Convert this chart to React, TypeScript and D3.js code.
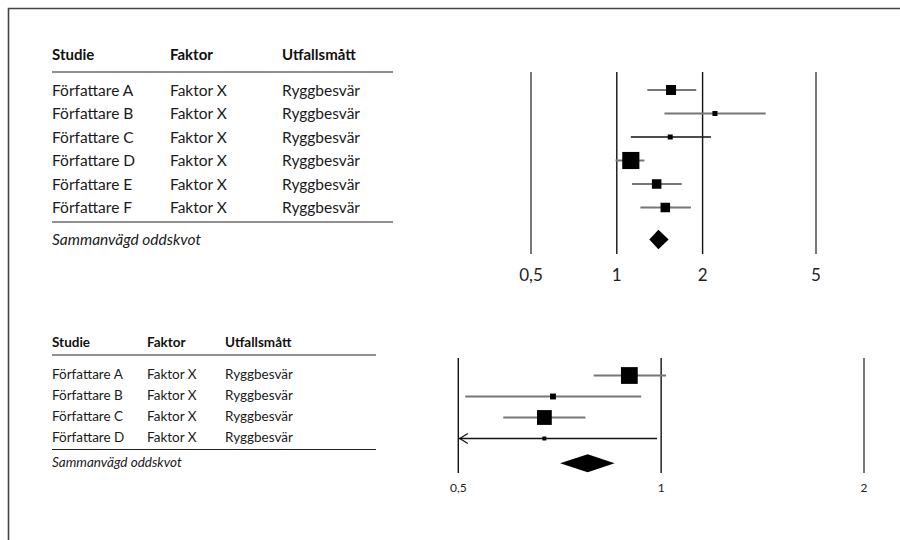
import React, { useRef, useEffect } from 'react'
import * as d3 from 'd3'

// övre diagrammet
const studierA = ['Författare A', 'Författare B', 'Författare C', 'Författare D', 'Författare E', 'Författare F']
const faktorA = ['Faktor X', 'Faktor X', 'Faktor X', 'Faktor X', 'Faktor X', 'Faktor X']
const utfallA = ['Ryggbesvär', 'Ryggbesvär', 'Ryggbesvär', 'Ryggbesvär', 'Ryggbesvär', 'Ryggbesvär']
const orA = [1.55, 2.21, 1.54, 1.12, 1.38, 1.48]
const lowA = [1.28, 1.47, 1.12, 0.99, 1.13, 1.21]
const highA = [1.9, 3.33, 2.14, 1.25, 1.69, 1.82]
const vikterA = [16, 4, 4, 47, 14.5, 14.5]
const pooledA = [1.3, 1.4, 1.52]
const ticksA = [0.5, 1, 2, 5]
const tickLabelsA = ['0,5', '1', '2', '5']

// nedre diagrammet
const studierB = ['Författare A', 'Författare B', 'Författare C', 'Författare D']
const faktorB = ['Faktor X', 'Faktor X', 'Faktor X', 'Faktor X']
const utfallB = ['Ryggbesvär', 'Ryggbesvär', 'Ryggbesvär', 'Ryggbesvär']
const orB = [0.897, 0.691, 0.671, 0.671]
const lowB = [0.794, 0.512, 0.583, 0.42]
const highB = [1.017, 0.934, 0.772, 0.986]
const vikterB = [45, 5.5, 35, 2.5]
const pooledB = [0.708, 0.778, 0.853]
const ticksB = [0.5, 1, 2]
const tickLabelsB = ['0,5', '1', '2']

const headers = ['Studie', 'Faktor', 'Utfallsmått']
const FONT = 'Lato, "Open Sans", sans-serif'
const GRAY = '#777'
const DARK = '#111'

function drawForest(g, o) {
    const x = d3.scaleLog().domain(o.domain).range(o.xRange)
    const y = d3.scalePoint().domain(o.studier).range(o.yRange)
    // tabellraderna ligger inte exakt i linje med diagrammets rader
    const yt = d3.scalePoint().domain(o.studier).range(o.tableRange)
    const size = d3.scaleSqrt().domain([0, 100]).range([0, o.sizeK])

    // tabell
    g.selectAll('text.head').data(headers).join('text')
        .attr('class', 'head')
        .attr('x', (d, i) => o.cols[i]).attr('y', o.headY)
        .attr('font-family', FONT).attr('font-weight', 700)
        .attr('font-size', o.headSize).attr('fill', DARK)
        .text(d => d)

    g.append('line').attr('x1', o.cols[0]).attr('x2', o.ruleEnd)
        .attr('y1', o.rule1).attr('y2', o.rule1)
        .attr('stroke', '#222').attr('stroke-width', 1.2)
    g.append('line').attr('x1', o.cols[0]).attr('x2', o.ruleEnd)
        .attr('y1', o.rule2).attr('y2', o.rule2)
        .attr('stroke', '#222').attr('stroke-width', 1.2)

    const cols = [o.studier, o.faktor, o.utfall]
    cols.forEach((col, ci) => {
        g.append('g').selectAll('text').data(col).join('text')
            .attr('x', o.cols[ci])
            .attr('y', (d, i) => yt(o.studier[i]))
            .attr('font-family', FONT).attr('font-size', o.textSize).attr('fill', '#1a1a1a')
            .text(d => d)
    })

    g.append('text').attr('x', o.cols[0]).attr('y', o.sumY)
        .attr('font-family', FONT).attr('font-style', 'italic')
        .attr('font-size', o.textSize).attr('fill', '#1a1a1a')
        .text('Sammanvägd oddskvot')

    // referenslinjer
    g.append('g').selectAll('line').data(o.ticks).join('line')
        .attr('x1', d => x(d)).attr('x2', d => x(d))
        .attr('y1', o.lineTop).attr('y2', o.lineBottom)
        .attr('stroke', d => o.grayTicks.includes(d) ? GRAY : DARK)
        .attr('stroke-width', d => o.grayTicks.includes(d) ? 2 : 1.4)

    g.append('g').selectAll('text').data(o.ticks).join('text')
        .attr('x', d => x(d)).attr('y', o.tickY)
        .attr('text-anchor', 'middle')
        .attr('font-family', FONT).attr('font-size', o.tickSize).attr('fill', '#222')
        .text((d, i) => o.tickLabels[i])

    // konfidensintervall
    const rows = o.studier.map((s, i) => ({ s, or: o.or[i], lo: o.low[i], hi: o.high[i], w: o.vikter[i], black: o.blackCI.includes(i) }))
    const lo = o.domain[0]
    g.append('g').selectAll('line').data(rows).join('line')
        .attr('x1', d => x(Math.max(d.lo, lo))).attr('x2', d => x(d.hi))
        .attr('y1', d => y(d.s)).attr('y2', d => y(d.s))
        .attr('stroke', d => d.black ? DARK : GRAY)
        .attr('stroke-width', d => d.black ? 1.4 : 2)

    // pil för intervall utanför skalan
    g.append('g').selectAll('path').data(rows.filter(d => d.lo < lo)).join('path')
        .attr('d', d => {
            const x0 = x(lo) + 1.5, yy = y(d.s)
            return `M${x0 + 8},${yy - 5}L${x0},${yy}L${x0 + 8},${yy + 5}`
        })
        .attr('fill', 'none').attr('stroke', DARK).attr('stroke-width', 1.2)

    g.append('g').selectAll('rect').data(rows).join('rect')
        .attr('x', d => x(d.or) - size(d.w) / 2)
        .attr('y', d => y(d.s) - size(d.w) / 2)
        .attr('width', d => size(d.w)).attr('height', d => size(d.w))
        .attr('fill', '#000')

    const [pl, pm, ph] = o.pooled
    g.append('path')
        .attr('d', `M${x(pl)},${o.diamondY}L${x(pm)},${o.diamondY - o.diamondH}L${x(ph)},${o.diamondY}L${x(pm)},${o.diamondY + o.diamondH}Z`)
        .attr('fill', '#000')
}

function App() {
    const svgRef = useRef(null)

    useEffect(() => {
        const svg = d3.select(svgRef.current)
        svg.selectAll('*').remove()

        svg.append('path')
            .attr('d', 'M8.5,540V8.5H900')
            .attr('fill', 'none').attr('stroke', '#444').attr('stroke-width', 1.6)

        drawForest(svg.append('g'), {
            studier: studierA, faktor: faktorA, utfall: utfallA,
            or: orA, low: lowA, high: highA, vikter: vikterA, pooled: pooledA,
            ticks: ticksA, tickLabels: tickLabelsA, grayTicks: [0.5, 5], blackCI: [2],
            domain: [0.5, 5], xRange: [531, 816], yRange: [90, 207.5], tableRange: [96, 213],
            cols: [52, 170, 282], ruleEnd: 393, headY: 60, headSize: 15,
            rule1: 72, rule2: 222, sumY: 245, textSize: 15.5,
            lineTop: 72, lineBottom: 254, tickY: 281, tickSize: 17,
            sizeK: 25, diamondY: 239.5, diamondH: 9.7,
        })

        drawForest(svg.append('g'), {
            studier: studierB, faktor: faktorB, utfall: utfallB,
            or: orB, low: lowB, high: highB, vikter: vikterB, pooled: pooledB,
            ticks: ticksB, tickLabels: tickLabelsB, grayTicks: [2], blackCI: [3],
            domain: [0.5, 2], xRange: [458.3, 864], yRange: [375.5, 438.5], tableRange: [379, 442],
            cols: [52, 147, 225], ruleEnd: 376, headY: 347, headSize: 13.5,
            rule1: 355, rule2: 449.5, sumY: 467, textSize: 13.5,
            lineTop: 358, lineBottom: 473, tickY: 492, tickSize: 12,
            sizeK: 25, diamondY: 463.3, diamondH: 9,
        })
    }, [])

    return (
        <svg ref={svgRef} width={900} height={540}
            style={{ position: 'absolute', left: 0, top: 0, background: '#fff' }} />
    )
}

export default App
